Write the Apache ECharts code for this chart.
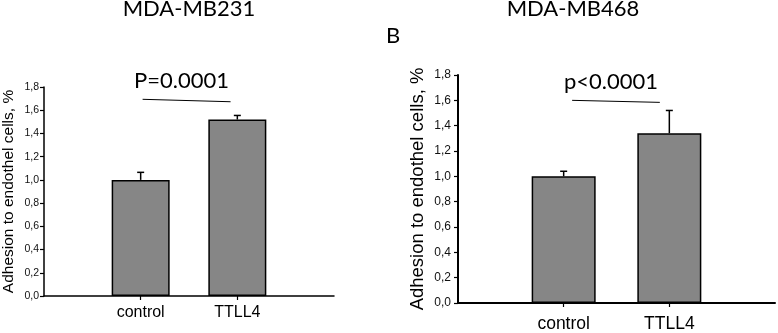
<!DOCTYPE html>
<html>
<head>
<meta charset="utf-8">
<script src="https://cdn.jsdelivr.net/npm/echarts@6/dist/echarts.min.js"></script>
<style>
  html, body { margin: 0; padding: 0; background: #fff; }
  #main { width: 778px; height: 333px; }
</style>
</head>
<body>
<div id="main"></div>
<script>
// categories (blank slots at both ends keep the bars at 1/3 and 2/3 of the axis)
var categories = ['', 'control', 'TTLL4', '']

// MDA-MB231 (panel A)
var meanA = [null, 1.0, 1.52, null]
var upperA = [1.065, 1.555]        // top of error bar: control, TTLL4
// MDA-MB468 (panel B)
var meanB = [null, 1.0, 1.34, null]
var upperB = [1.04, 1.52]

// significance lines [x1, y1, x2, y2] on a 0..3 scale, and their labels
var sigA = [1.02, 1.694, 1.93, 1.673]
var sigB = [1.08, 1.60, 1.91, 1.584]
var sigTextA = 'P=0.0001'
var sigTextB = 'p<0.0001'

var yTicks = { min: 0, max: 1.8, interval: 0.2 }

var font = 'Liberation Sans, Arial, sans-serif'
var myChart = echarts.init(document.getElementById('main'))

function errRender(params, api) {
  var top = api.coord([api.value(0), api.value(2)])
  var base = api.coord([api.value(0), api.value(1)])
  var half = 3.5
  return {
    type: 'group',
    children: [
      { type: 'line', shape: { x1: base[0], y1: base[1], x2: top[0], y2: top[1] }, style: { stroke: '#000', lineWidth: 1.5 } },
      { type: 'line', shape: { x1: top[0] - half, y1: top[1], x2: top[0] + half, y2: top[1] }, style: { stroke: '#000', lineWidth: 1.5 } }
    ]
  }
}

function sigRender(text) {
  return function (params, api) {
    var p1 = api.coord([api.value(0), api.value(1)])
    var p2 = api.coord([api.value(2), api.value(3)])
    return {
      type: 'group',
      children: [
        { type: 'line', shape: { x1: p1[0], y1: p1[1], x2: p2[0], y2: p2[1] }, style: { stroke: '#000', lineWidth: 1 } },
        {
          type: 'text',
          style: {
            text: text, x: (p1[0] + p2[0]) / 2 - 5, y: Math.min(p1[1], p2[1]) - 7,
            font: '22px Lato, sans-serif', fill: '#000', align: 'center', verticalAlign: 'bottom'
          }
        }
      ]
    }
  }
}

function yAxis(grid, size, nameSize, gap, margin, lw) {
  return Object.assign({
    type: 'value', gridIndex: grid,
    name: 'Adhesion to endothel cells, %', nameLocation: 'middle', nameRotate: 90, nameGap: gap,
    nameTextStyle: { fontFamily: font, fontSize: nameSize, color: '#000' },
    axisLine: { show: true, lineStyle: { color: '#000', width: lw } },
    axisTick: { show: true, length: 4, lineStyle: { color: '#000', width: 1.2 } },
    axisLabel: {
      fontFamily: font, fontSize: size, color: '#111', margin: margin,
      formatter: function (v) { return v.toFixed(1).replace('.', ',') }
    },
    splitLine: { show: false }
  }, yTicks)
}

function xCat(grid, size, margin, lw) {
  return {
    type: 'category', gridIndex: grid, data: categories, boundaryGap: false,
    axisLine: { lineStyle: { color: '#000', width: lw } },
    axisTick: { length: 4, interval: function (i, v) { return v !== '' }, lineStyle: { color: '#000', width: 1.2 } },
    axisLabel: { interval: 0, fontFamily: font, fontSize: size, color: '#000', margin: margin },
    splitLine: { show: false }
  }
}

function xVal(grid) {
  return { type: 'value', gridIndex: grid, min: 0, max: 3, show: false, splitLine: { show: false } }
}

var barStyle = { color: '#868686', borderColor: '#000', borderWidth: 1.5 }

myChart.setOption({
  animation: false,
  graphic: [
    { type: 'text', style: { text: 'MDA-MB231', x: 189, y: -2, font: '22px Lato, sans-serif', fill: '#000', align: 'center', verticalAlign: 'top' } },
    { type: 'text', style: { text: 'MDA-MB468', x: 573, y: -2, font: '22px Lato, sans-serif', fill: '#000', align: 'center', verticalAlign: 'top' } },
    { type: 'text', style: { text: 'B', x: 386, y: 25, font: '22px Lato, sans-serif', fill: '#000', align: 'left', verticalAlign: 'top' } }
  ],
  grid: [
    { left: 42, top: 87, width: 292, height: 209 },
    { left: 458, top: 75, width: 320, height: 230 }
  ],
  xAxis: [xCat(0, 16, 9, 1.5), xCat(1, 17.5, 12, 2), xVal(0), xVal(1)],
  yAxis: [yAxis(0, 10.5, 15.5, 27, 5, 1.5), yAxis(1, 12, 18.5, 31, 7, 2)],
  series: [
    { type: 'bar', xAxisIndex: 0, yAxisIndex: 0, data: meanA, barWidth: 58, itemStyle: barStyle },
    { type: 'bar', xAxisIndex: 1, yAxisIndex: 1, data: meanB, barWidth: 64, itemStyle: barStyle },
    {
      type: 'custom', xAxisIndex: 0, yAxisIndex: 0, z: 3, renderItem: errRender,
      data: upperA.map(function (u, i) { return [i + 1, meanA[i + 1], u] })
    },
    {
      type: 'custom', xAxisIndex: 1, yAxisIndex: 1, z: 3, renderItem: errRender,
      data: upperB.map(function (u, i) { return [i + 1, meanB[i + 1], u] })
    },
    { type: 'custom', xAxisIndex: 2, yAxisIndex: 0, renderItem: sigRender(sigTextA), data: [sigA] },
    { type: 'custom', xAxisIndex: 3, yAxisIndex: 1, renderItem: sigRender(sigTextB), data: [sigB] }
  ]
})
</script>
</body>
</html>
